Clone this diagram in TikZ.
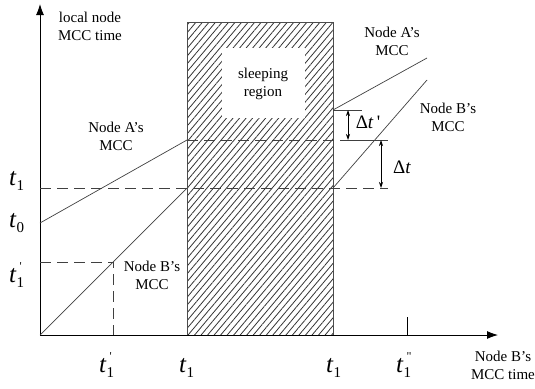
\documentclass[tikz,border=0pt]{standalone}
\usepackage{fontspec}
\setmainfont{Liberation Serif}
\usetikzlibrary{patterns.meta,arrows.meta}
\newcommand{\tsym}[2]{{\fontsize{25}{25}\selectfont\itshape t}\kern0.5pt\rlap{\kern3pt\raisebox{12pt}{\fontsize{12}{12}\selectfont #2}}\raisebox{-5.5pt}{\fontsize{15}{15}\selectfont #1}}
\begin{document}
\begin{tikzpicture}[x=1pt,y=-1pt,
  lbl/.style={inner sep=0pt,align=center,font=\fontsize{15}{18}\selectfont},
  tlbl/.style={inner sep=0pt,anchor=base west},
  dlbl/.style={inner sep=0pt,font=\fontsize{19}{19}\selectfont},
  curve/.style={line width=0.7pt,draw=black!75},
  dashline/.style={line width=0.7pt,draw=black!75,dash pattern=on 11pt off 6pt},
  axis/.style={line width=0.9pt,-{Latex[length=11pt,width=8pt]}},
  dim/.style={line width=0.7pt,{Stealth[length=6pt,width=4pt]}-{Stealth[length=6pt,width=4pt]}}]
\useasboundingbox (0,0) rectangle (535,388);
% hatched sleeping region
\fill[pattern={Lines[angle=50,distance=5pt,line width=0.8pt]},pattern color=black!80] (187,22) rectangle (333,335);
\draw[line width=0.5pt,black!70] (187,22) rectangle (333,335);
\fill[white] (222,48) rectangle (305,118);
% coordinates
\coordinate (O) at (40,335);
\coordinate (ytip) at (40,4);
\coordinate (xtip) at (498,335);
\coordinate (a0) at (40,223);
\coordinate (a1) at (187,140);
\coordinate (a2) at (333,110);
\coordinate (a3) at (427,58);
\coordinate (b1) at (187,188);
\coordinate (b2) at (333,188);
\coordinate (b3) at (427,80);
\coordinate (t1y) at (40,188);
\coordinate (t1e) at (388,188);
\coordinate (dA) at (345,140);
\coordinate (dAe) at (388,140);
\coordinate (topE) at (362,110);
\coordinate (d1s) at (348,110);
\coordinate (d1e) at (348,140);
\coordinate (d2s) at (381,140);
\coordinate (d2e) at (381,188);
\coordinate (tp1) at (40,262);
\coordinate (tp2) at (113,262);
\coordinate (tp3) at (113,335);
\coordinate (tk1) at (407,317);
\coordinate (tk2) at (407,335);
% axes
\draw[axis] (O) -- (ytip);
\draw[axis] (O) -- (xtip);
% dashed lines
\draw[dashline] (t1y) -- (t1e);
\draw[dashline] (a1) -- (dA);
\draw[dashline] (tp1) -- (tp2) -- (tp3);
% clock lines
\draw[curve] (a0) -- (a1);
\draw[curve] (a2) -- (a3);
\draw[curve] (O) -- (b1);
\draw[curve] (b2) -- (b3);
% extension lines and dimension arrows
\draw[curve] (a2) -- (topE);
\draw[curve] (dA) -- (dAe);
\draw[dim] (d1s) -- (d1e);
\draw[dim] (d2s) -- (d2e);
\draw[line width=0.7pt] (tk1) -- (tk2);
% labels
\node[lbl] (ylab) at (90,26) {local node\\MCC time};
\node[lbl] (xlab) at (503,365) {Node B’s\\MCC time};
\node[lbl] (sleep) at (263,84) {sleeping\\region};
\node[lbl] (Al) at (116,136) {Node A’s\\MCC};
\node[lbl] (Bl) at (152,275) {Node B’s\\MCC};
\node[lbl] (Ar) at (392,41) {Node A’s\\MCC};
\node[lbl] (Br) at (448,117) {Node B’s\\MCC};
\node[dlbl] (dtp) at (368,122) {Δ\textit{t}\,\textquotesingle};
\node[dlbl] (dt) at (402,167) {Δ\textit{t}};
\node[tlbl] (L1) at (9,185) {\tsym{1}{}};
\node[tlbl] (L0) at (9,227) {\tsym{0}{}};
\node[tlbl] (Lp) at (9,282) {\tsym{1}{\textquotesingle}};
\node[tlbl] (Bp) at (99,372) {\tsym{1}{\textquotesingle}};
\node[tlbl] (B1) at (179,372) {\tsym{1}{}};
\node[tlbl] (B2) at (326,372) {\tsym{1}{}};
\node[tlbl] (Bpp) at (396,372) {\tsym{1}{\textquotedbl}};
\end{tikzpicture}
\end{document}
